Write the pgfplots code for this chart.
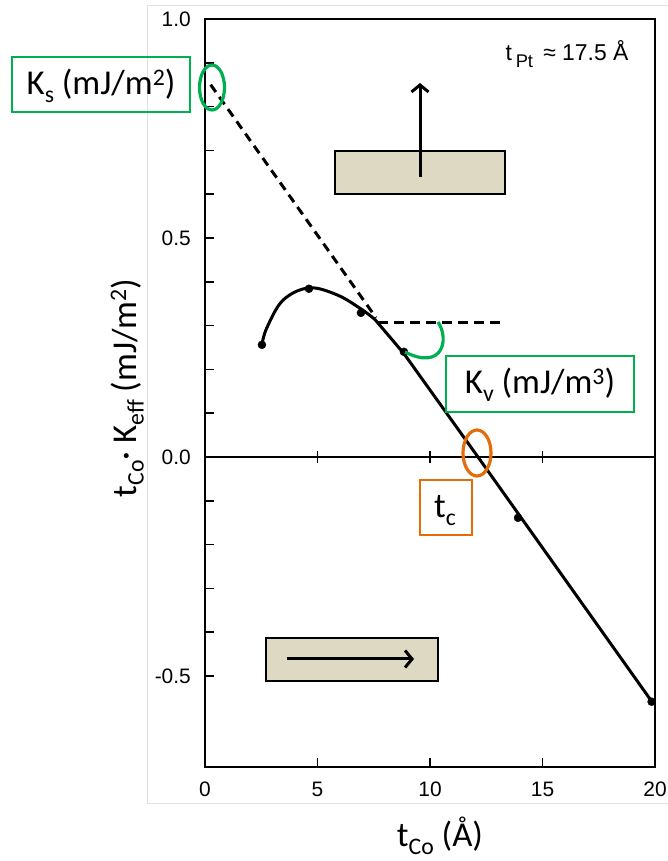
\documentclass[border=0pt]{standalone}
\usepackage{pgfplots}
\pgfplotsset{compat=1.18}
\usetikzlibrary{arrows.meta}
\usepackage{graphicx}
\usepackage{fontspec}
\setmainfont{Carlito}
\newfontfamily\helv{Liberation Sans}
\definecolor{kgreen}{HTML}{00B050}
\definecolor{korange}{HTML}{E46C0A}
\definecolor{boxfill}{HTML}{DDD9C3}
\newcommand\sub[1]{\raisebox{-0.22em}{\scalebox{0.68}{#1}}}
\newcommand\supr[1]{\raisebox{0.28em}{\scalebox{0.68}{#1}}}
\begin{document}
\begin{tikzpicture}[x=1bp,y=1bp]
\useasboundingbox (0,0) rectangle (668,861);
\draw[black!12, line width=0.8bp] (668,856) -- (147,856) -- (147,58) -- (668,58);
\begin{axis}[at={(205bp,94bp)}, anchor=south west, scale only axis,
  width=450bp, height=748bp,
  xmin=0, xmax=20, ymin=-0.708, ymax=1.0,
  axis line style={line width=2.2bp},
  xtick={0,5,10,15,20}, xticklabels={0,5,10,15,20},
  ytick={-0.5,0,0.5,1}, yticklabels={-0.5,0.0,0.5,1.0},
  minor y tick num=4,
  tick align=inside, xtick pos=bottom, ytick pos=left,
  major tick length=9bp, minor tick length=9bp,
  every tick/.style={black, line width=1.6bp},
  tick label style={font=\helv\fontsize{21}{21}\selectfont, inner sep=0pt},
  yticklabel style={anchor=east, xshift=-14bp},
  xticklabel style={anchor=north, yshift=-15bp},
  clip=false,
]
% zero line with ticks
\addplot[black, line width=1.6bp, forget plot] coordinates {(0,0) (20,0)};
\draw[line width=1.6bp] (5,-0.014) -- (5,0.014) (10,-0.014) -- (10,0.014) (15,-0.014) -- (15,0.014);
% guide curve
\addplot[black, line width=3bp, smooth, tension=0.6] coordinates {(2.53,0.256) (2.75,0.295) (3.47,0.358) (4.62,0.386) (5.87,0.370) (6.93,0.338) (7.55,0.314)};
\addplot[black, line width=3bp] coordinates {(7.55,0.314) (8.84,0.236) (12.13,0) (19.85,-0.558)};
% dashed extrapolations
\addplot[black, line width=3bp, dash pattern=on 9bp off 6bp] coordinates {(0.25,0.85) (7.6,0.318)};
\addplot[black, line width=3bp, dash pattern=on 10bp off 6bp] coordinates {(7.7,0.308) (13.33,0.308)};
% data points
\addplot[only marks, mark=*, mark size=4bp, black] coordinates {(2.53,0.256) (4.62,0.384) (6.93,0.329) (8.84,0.240) (13.91,-0.139) (19.85,-0.559)};
\end{axis}
% magnetization boxes
\draw[line width=2.8bp, fill=boxfill] (335,710) rectangle (505,667);
\draw[line width=3bp, -{Straight Barb[length=7bp,width=17bp]}] (420,684) -- (420,778);
\draw[line width=2.8bp, fill=boxfill] (266,223) rectangle (438,180);
\draw[line width=3bp, -{Straight Barb[length=7bp,width=17bp]}] (287,202) -- (414,202);
% highlights
\draw[kgreen, line width=3.2bp] (212,773.5) ellipse [x radius=12.5, y radius=22.5];
\draw[korange, line width=3.2bp] (477,408) ellipse [x radius=14, y radius=23];
\draw[kgreen, line width=3.2bp] (438,539) .. controls (450,521) and (442,490) .. (405,509);
% label boxes
\draw[kgreen, line width=1.3bp] (12,804) rectangle (190,749);
\node[anchor=base, inner sep=0pt, font=\fontsize{35}{40}\selectfont] at (101,766) {K\sub{s} (mJ/m\supr{2})};
\draw[kgreen, line width=1.3bp] (446,505) rectangle (634,449);
\node[anchor=base, inner sep=0pt, font=\fontsize{35}{40}\selectfont] at (540,467) {K\sub{v} (mJ/m\supr{3})};
\draw[korange, line width=1.3bp] (420,381) rectangle (472,326);
\node[anchor=base, inner sep=0pt, font=\fontsize{35}{40}\selectfont] at (445,343) {t\sub{c}};
% texts
\node[anchor=base, inner sep=0pt, font=\helv\fontsize{23}{23}\selectfont] at (567,800) {t\,\raisebox{-0.3em}{\scalebox{0.8}{Pt}}\, ≈ 17.5 Å};
\node[anchor=base, inner sep=0pt, font=\fontsize{35}{40}\selectfont] at (440,14) {t\sub{Co} (Å)};
\node[anchor=base, rotate=90, inner sep=0pt, font=\fontsize{35}{40}\selectfont] at (136,473) {t\sub{Co}· K\sub{eff} (mJ/m\supr{2})};
\end{tikzpicture}
\end{document}
